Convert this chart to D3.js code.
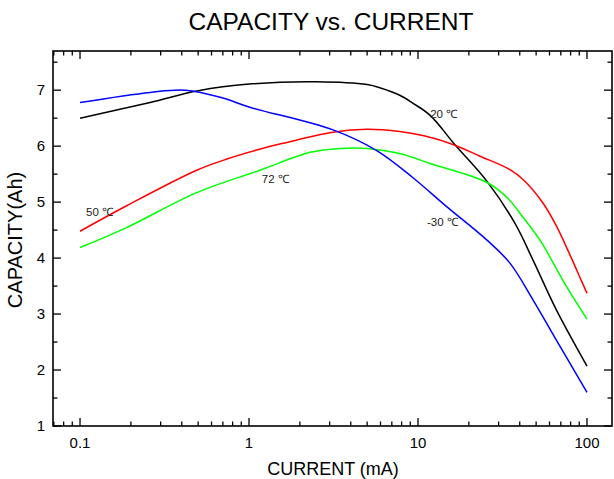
<!DOCTYPE html>
<html><head><meta charset="utf-8">
<script src="https://cdn.jsdelivr.net/npm/d3@7"></script>
<style>body{margin:0;background:#fff}text{font-family:"Liberation Sans",Arial,sans-serif}</style>
</head><body><svg id="c" width="614" height="479"></svg>
<script>
// ---- data ----
const blackX = [0.1, 0.26, 0.5, 1, 2.5, 5, 6, 7.8, 9.3, 11.8, 16.6, 25.6, 37.5, 48, 66, 100];
const blackY = [6.5, 6.78, 6.99, 7.11, 7.15, 7.10, 7.04, 6.91, 6.77, 6.55, 6.02, 5.37, 4.62, 3.96, 3.07, 2.07];
const blueX = [0.1, 0.26, 0.42, 0.7, 1, 3.14, 5.7, 9.3, 14.9, 25.6, 35, 48, 66, 100];
const blueY = [6.78, 6.96, 7.0, 6.86, 6.70, 6.29, 5.92, 5.44, 4.91, 4.32, 3.91, 3.25, 2.53, 1.60];
const redX = [0.1, 0.19, 0.49, 0.74, 1.11, 1.59, 3.14, 5, 7.8, 11, 16.1, 23.3, 35, 42, 55, 66, 80, 91, 100];
const redY = [4.48, 4.94, 5.57, 5.77, 5.93, 6.05, 6.25, 6.30, 6.26, 6.18, 6.03, 5.82, 5.58, 5.40, 4.98, 4.57, 4.03, 3.65, 3.37];
const greenX = [0.1, 0.19, 0.49, 1.16, 2.3, 3.45, 5, 7.8, 11.8, 25.6, 33.7, 41.8, 52.7, 76, 100];
const greenY = [4.19, 4.55, 5.17, 5.57, 5.89, 5.96, 5.96, 5.87, 5.69, 5.35, 5.08, 4.73, 4.32, 3.48, 2.91];
const xMajor = [0.1, 1, 10, 100];
const xMajorLabels = ["0.1", "1", "10", "100"];
const yMajor = [1, 2, 3, 4, 5, 6, 7];
const labels = [
  {text: "20 ℃", x: 11.8, y: 6.50},
  {text: "-30 ℃", x: 11.3, y: 4.57},
  {text: "50 ℃", x: 0.1085, y: 4.75},
  {text: "72 ℃", x: 1.19, y: 5.34}
];
const title = "CAPACITY vs. CURRENT";
const xTitle = "CURRENT (mA)";
const yTitle = "CAPACITY(Ah)";

// ---- layout ----
const L = 53, R = 612, T = 51, B = 426;
const svg = d3.select("#c");
const x = d3.scaleLog().domain([0.0692, 140.6]).range([L, R]);
const y = d3.scaleLinear().domain([1, 7.7]).range([B, T]);

const xMinor = [];
for (const d of [0.01, 0.1, 1, 10, 100]) for (let k = 2; k <= 9; k++) {
  const v = d * k; if (v > x.domain()[0] && v < x.domain()[1]) xMinor.push(v);
}
const yMinor = d3.range(1.5, 7.6, 1);

// ticks (inward) on all sides
const g = svg.append("g").attr("stroke", "#000").attr("stroke-width", 1.3);
xMajor.forEach(v => {
  g.append("line").attr("x1", x(v)).attr("x2", x(v)).attr("y1", B).attr("y2", B - 8);
  g.append("line").attr("x1", x(v)).attr("x2", x(v)).attr("y1", T).attr("y2", T + 8);
});
xMinor.forEach(v => {
  g.append("line").attr("x1", x(v)).attr("x2", x(v)).attr("y1", B).attr("y2", B - 4.5);
  g.append("line").attr("x1", x(v)).attr("x2", x(v)).attr("y1", T).attr("y2", T + 4.5);
});
yMajor.forEach(v => {
  g.append("line").attr("y1", y(v)).attr("y2", y(v)).attr("x1", L).attr("x2", L + 8);
  g.append("line").attr("y1", y(v)).attr("y2", y(v)).attr("x1", R).attr("x2", R - 8);
});
yMinor.forEach(v => {
  g.append("line").attr("y1", y(v)).attr("y2", y(v)).attr("x1", L).attr("x2", L + 4.5);
  g.append("line").attr("y1", y(v)).attr("y2", y(v)).attr("x1", R).attr("x2", R - 4.5);
});
svg.append("rect").attr("x", L).attr("y", T).attr("width", R - L).attr("height", B - T)
  .attr("fill", "none").attr("stroke", "#000").attr("stroke-width", 1.6);

// tick labels
svg.selectAll(".xl").data(xMajor).enter().append("text")
  .attr("x", d => x(d)).attr("y", 448).attr("text-anchor", "middle")
  .attr("font-size", 15).text((d, i) => xMajorLabels[i]);
svg.selectAll(".yl").data(yMajor).enter().append("text")
  .attr("x", 45).attr("y", d => y(d) + 5.3).attr("text-anchor", "end")
  .attr("font-size", 15).text(d => d);

// titles
svg.append("text").attr("x", 331).attr("y", 30).attr("text-anchor", "middle").attr("font-size", 24.5).text(title);
svg.append("text").attr("x", 333).attr("y", 475).attr("text-anchor", "middle").attr("font-size", 18).text(xTitle);
svg.append("text").attr("transform", "translate(22,240) rotate(-90)").attr("text-anchor", "middle").attr("font-size", 20).text(yTitle);

// lines
const line = d3.line().x(d => x(d[0])).y(d => y(d[1])).curve(d3.curveCatmullRom.alpha(0.5));
const series = [
  {xs: blackX, ys: blackY, c: "#000000"},
  {xs: redX, ys: redY, c: "#ff0000"},
  {xs: greenX, ys: greenY, c: "#00ff00"},
  {xs: blueX, ys: blueY, c: "#0000ff"}
];
series.forEach(s => {
  svg.append("path").datum(s.xs.map((v, i) => [v, s.ys[i]]))
    .attr("d", line).attr("fill", "none").attr("stroke", s.c).attr("stroke-width", 1.5);
});

// curve labels
labels.forEach(l => {
  svg.append("text").attr("x", x(l.x)).attr("y", y(l.y)).attr("font-size", 11.5).attr("fill", "#222").text(l.text);
});
</script></body></html>
